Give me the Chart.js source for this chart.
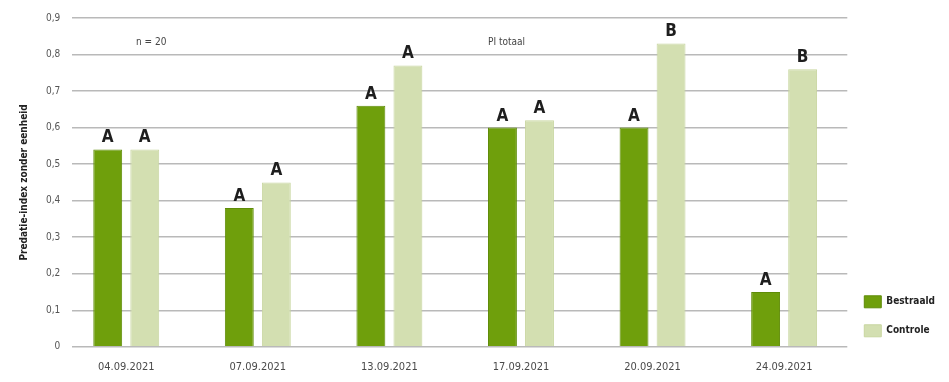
<!DOCTYPE html>
<html lang="nl">
<head>
<meta charset="UTF-8">
<title>Predatie-index</title>
<script src="https://cdn.jsdelivr.net/npm/chart.js"></script>
<style>
  html, body { margin: 0; padding: 0; background: #fff; }
  #wrap { width: 949px; height: 382px; }
</style>
</head>
<body>
<div id="wrap"><canvas id="piChart"></canvas></div>
<script>
const dates = ['04.09.2021', '07.09.2021', '13.09.2021', '17.09.2021', '20.09.2021', '24.09.2021'];
const bestraald = [0.54, 0.38, 0.66, 0.60, 0.60, 0.15];
const controle = [0.54, 0.45, 0.77, 0.62, 0.83, 0.76];
const sigBestraald = ['A', 'A', 'A', 'A', 'A', 'A'];
const sigControle = ['A', 'A', 'A', 'A', 'B', 'B'];
const yTicks = [0, 0.1, 0.2, 0.3, 0.4, 0.5, 0.6, 0.7, 0.8, 0.9];

const FONT = '"Liberation Sans Narrow", "DejaVu Sans Condensed", "Liberation Sans", sans-serif';

// significance letters above bars + text notes in the plot
const letterPlugin = {
  id: 'letters',
  afterLayout(chart) {
    // nudge the legend a bit lower, next to the bottom of the plot
    chart.legend.top += 7;
    chart.legend.bottom += 7;
  },
  afterDatasetsDraw(chart) {
    const ctx = chart.ctx;
    const sets = [sigBestraald, sigControle];
    ctx.save();
    ctx.fillStyle = '#1e1e1e';
    ctx.font = 'bold 17px ' + FONT;
    ctx.textAlign = 'center';
    ctx.textBaseline = 'bottom';
    sets.forEach((letters, d) => {
      chart.getDatasetMeta(d).data.forEach((bar, i) => {
        ctx.fillText(letters[i], bar.x, bar.y - 3);
      });
    });
    const xs = chart.scales.x, ys = chart.scales.y;
    ctx.font = '10px ' + FONT;
    ctx.fillStyle = '#444';
    ctx.textBaseline = 'middle';
    ctx.fillText('n = 20', xs.getPixelForValue(0.19), ys.getPixelForValue(0.833));
    ctx.fillText('PI totaal', xs.getPixelForValue(2.89), ys.getPixelForValue(0.833));
    ctx.restore();
  }
};

new Chart(document.getElementById('piChart'), {
  type: 'bar',
  data: {
    datasets: [{
      label: 'Bestraald',
      data: bestraald.map((v, i) => ({ x: i, y: v })),
      backgroundColor: '#6f9f0c',
      borderColor: '#5f8c08',
      borderWidth: 1,
      categoryPercentage: 0.563,
      barPercentage: 0.78
    }, {
      label: 'Controle',
      data: controle.map((v, i) => ({ x: i, y: v })),
      backgroundColor: '#d3dfb1',
      borderColor: '#c8d6a0',
      borderWidth: 1,
      categoryPercentage: 0.563,
      barPercentage: 0.78
    }]
  },
  options: {
    responsive: true,
    maintainAspectRatio: false,
    animation: false,
    layout: { padding: { left: 14, top: 10, right: 4, bottom: 2 } },
    scales: {
      x: {
        type: 'linear',
        min: -0.41,
        max: 5.48,
        offset: false,
        grid: { display: false },
        border: { display: false },
        ticks: {
          stepSize: 1,
          includeBounds: false,
          autoSkip: false,
          maxRotation: 0,
          padding: 6,
          color: '#4a4a4a',
          font: { family: FONT, size: 11 },
          callback: v => dates[v] !== undefined && Number.isInteger(v) ? dates[v] : ''
        }
      },
      y: {
        min: 0,
        max: 0.9,
        afterBuildTicks: axis => { axis.ticks = yTicks.map(v => ({ value: v })); },
        grid: { color: '#b9b9b9', lineWidth: 1.5, drawTicks: false },
        border: { display: false },
        ticks: {
          padding: 12,
          color: '#555',
          font: { family: FONT, size: 10 },
          callback: v => v === 0 ? '0' : v.toFixed(1).replace('.', ',')
        },
        title: {
          display: true,
          text: 'Predatie-index zonder eenheid',
          color: '#222',
          font: { family: FONT, size: 10, weight: 'bold' },
          padding: { bottom: 4 }
        }
      }
    },
    plugins: {
      legend: {
        position: 'right',
        align: 'end',
        fullSize: false,
        labels: {
          boxWidth: 17,
          boxHeight: 12,
          padding: 17,
          color: '#222',
          font: { family: FONT, size: 10, weight: 'bold' }
        }
      },
      tooltip: { enabled: false }
    }
  },
  plugins: [letterPlugin]
});
</script>
</body>
</html>
